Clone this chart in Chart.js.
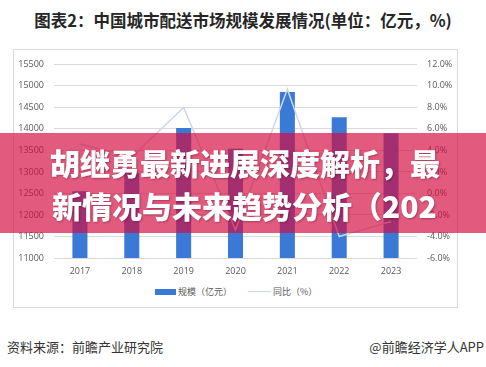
<!DOCTYPE html>
<html>
<head>
<meta charset="utf-8">
<title>中国城市配送市场规模发展情况</title>
<style>
  body { margin:0; background:#fff; width:486px; height:367px; overflow:hidden; position:relative;
         font-family:"Noto Sans CJK SC","Noto Sans",sans-serif; }
  #title { position:absolute; left:0; top:8px; width:486px; text-align:center;
           font-size:16.5px; font-weight:bold; color:#262626; line-height:24px; }
  #box { position:absolute; left:13px; top:49px; width:443px; height:257px; border:1px solid #d9d9d9; }
  #wrap { position:absolute; left:13px; top:49px; width:444px; height:229px; }
  #legend { position:absolute; top:285px; left:155px; font-size:9px; color:#595959; line-height:14px; }
  #legend span { position:absolute; white-space:nowrap; }
  #banner { position:absolute; left:0; top:133px; width:486px; height:100px;
            background:rgba(212,12,64,0.68); }
  #banner div { position:absolute; left:50px; color:#fff; font-size:30px; font-weight:900;
                line-height:43px; white-space:nowrap; text-shadow:1px 1px 2px rgba(60,0,20,0.35); }
  .foot { position:absolute; top:338px; font-size:13px; color:#333; line-height:18px; white-space:nowrap; }
</style>
</head>
<body>
<div id="title">图表2：中国城市配送市场规模发展情况(单位：亿元，%)</div>
<div id="box"></div>
<div id="wrap"><canvas id="myChart" width="444" height="229"></canvas></div>
<div id="legend">
  <span style="left:0;top:4px;width:21px;height:6px;background:#3a7ad6;"></span>
  <span style="left:23px;top:0;">规模（亿元）</span>
  <span style="left:93px;top:6px;width:23px;height:0;border-top:1.5px solid #cbd8ea;"></span>
  <span style="left:118px;top:0;">同比（%）</span>
</div>
<div id="banner">
  <div style="top:8px;">胡继勇最新进展深度解析，最</div>
  <div style="top:51px;left:52px;">新情况与未来趋势分析（202</div>
</div>
<div class="foot" style="left:7px;">资料来源：前瞻产业研究院</div>
<div class="foot" style="right:2px;">@前瞻经济学人APP</div>

<script src="https://cdn.jsdelivr.net/npm/chart.js@4.4.1/dist/chart.umd.min.js"></script>
<script type="text/javascript">

	var years = ['2017', '2018', '2019', '2020', '2021', '2022', '2023'];
	var scaleValues = [12550, 12980, 14020, 13540, 14860, 14270, 13900];   // 规模（亿元）
	var growthValues = [4.6, 3.4, 8.0, -3.4, 9.7, -4.0, -2.6];             // 同比（%）
	var leftTicks = [11000, 15500, 500];
	var rightTicks = [-6, 12, 2];

	var tickFont = { family: 'Open Sans', size: 9 };
	var tickColor = '#595959';

	var config = {
	    type: 'bar',
	    data: {
	        labels: years,
	        datasets: [{
	            label: '同比（%）',
	            type: 'line',
	            data: growthValues,
	            yAxisID: 'y1',
	            borderColor: '#cbd8ea',
	            borderWidth: 1.5,
	            pointRadius: 0,
	            tension: 0,
	            order: 0
	        }, {
	            label: '规模（亿元）',
	            data: scaleValues,
	            yAxisID: 'y',
	            backgroundColor: '#3a7ad6',
	            barPercentage: 0.29,
	            categoryPercentage: 1,
	            order: 1
	        }]
	    },
	    options: {
	        responsive: false,
	        animation: false,
	        layout: { padding: { top: 11, left: 0, right: 0, bottom: 0 } },
	        plugins: { legend: { display: false }, tooltip: { enabled: false } },
	        scales: {
	            x: {
	                grid: { display: false, drawTicks: false },
	                border: { display: false },
	                ticks: { font: tickFont, color: tickColor, padding: 8, maxRotation: 0 },
	                afterFit: function (s) { s.height = 20; }
	            },
	            y: {
	                position: 'left',
	                min: leftTicks[0],
	                max: leftTicks[1],
	                grid: { color: '#d9d9d9', drawTicks: false },
	                border: { display: false },
	                ticks: {
	                    stepSize: leftTicks[2], font: tickFont, color: tickColor, padding: 10,
	                    callback: function (v) { return String(v); }
	                },
	                afterFit: function (s) { s.width = 41; }
	            },
	            y1: {
	                position: 'right',
	                min: rightTicks[0],
	                max: rightTicks[1],
	                grid: { display: false, drawTicks: false },
	                border: { display: false },
	                ticks: {
	                    stepSize: rightTicks[2], font: tickFont, color: tickColor, padding: 10,
	                    callback: function (v) { return v.toFixed(1) + '%'; }
	                },
	                afterFit: function (s) { s.width = 40; }
	            }
	        }
	    }
	};

	window.onload = function () {
	    var ctx = document.getElementById('myChart').getContext('2d');
	    window.myChart = new Chart(ctx, config);
	};

</script>
</body>
</html>
